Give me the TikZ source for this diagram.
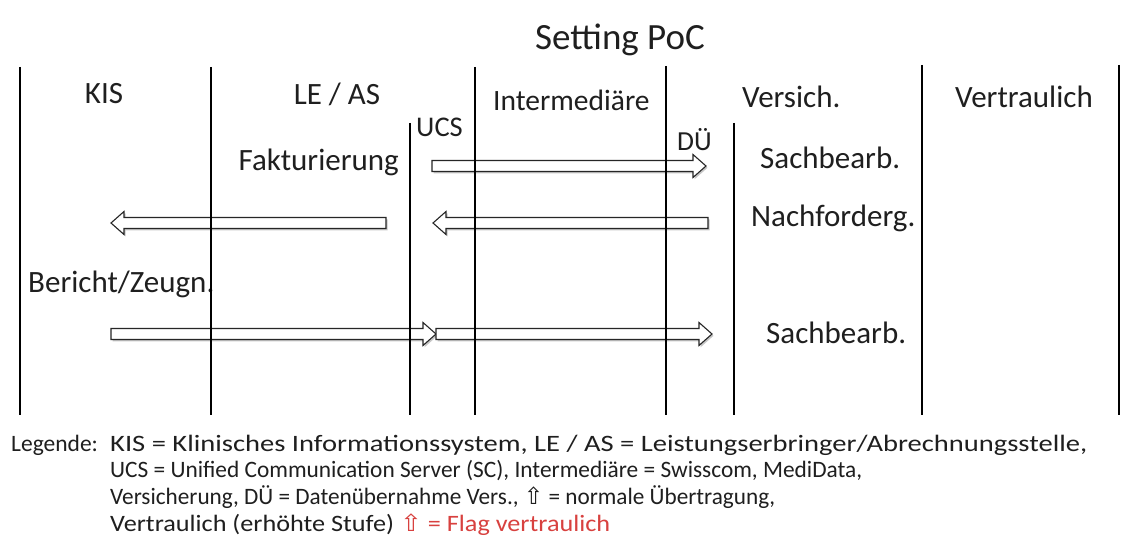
\documentclass[tikz,border=0pt]{standalone}
\usepackage{fontspec}
\setmainfont{Carlito}
\newfontfamily\symf{DejaVu Sans}
\usetikzlibrary{calc}
\definecolor{flagred}{HTML}{D8413F}
\newcommand\hblock[2]{%
  \path[barrow] let \p1=(#1), \p2=(#2), \p3=($(#2)!13pt!(#1)$) in
    (\x1,\y1+5.5pt) -- (\x3,\y1+5.5pt) -- (\x3,\y1+11.5pt) -- (\x2,\y2)
    -- (\x3,\y1-11.5pt) -- (\x3,\y1-5.5pt) -- (\x1,\y1-5.5pt) -- cycle;}
\newcommand\legline[2]{\resizebox{#1pt}{\height}{#2}}
\begin{document}
\begin{tikzpicture}[x=1pt,y=-1pt,
  vline/.style={line width=2.6pt,black},
  lbl/.style={font=\fontsize{31}{36}\selectfont,inner sep=0pt,text=black!88},
  legfont/.style={font=\fontsize{23.5}{26.7}\selectfont,inner sep=0pt,text=black!88},
  barrow/.style={draw=black!85,line width=1.1pt,line join=miter,fill=white,
    preaction={fill=black!22,transform canvas={shift={(1.5pt,-1.8pt)}}}}]
\useasboundingbox[fill=white] (0,0) rectangle (1122,556);
% title
\node[font=\fontsize{37}{42}\selectfont,inner sep=0pt,anchor=base,text=black!88] (title) at (620,50) {Setting PoC};
% labels
\node[lbl,anchor=base] (kis) at (104,104) {KIS};
\node[lbl,anchor=base] (leas) at (337,105) {LE / AS};
\node[lbl,anchor=base west,font=\fontsize{28.5}{34}\selectfont] (ucs) at (416,137) {UCS};
\node[lbl,anchor=base west,font=\fontsize{29.5}{34}\selectfont] (inter) at (493,111) {Intermediäre};
\node[lbl,anchor=base west,font=\fontsize{27.5}{32}\selectfont] (due) at (677,151) {DÜ};
\node[lbl,anchor=base west] (vers) at (742,108) {Versich.};
\node[lbl,anchor=base west] (vertr) at (955,108) {Vertraulich};
\node[lbl,anchor=base east] (fakt) at (399,171) {Fakturierung};
\node[lbl,anchor=base west] (sach1) at (760,169) {Sachbearb.};
\node[lbl,anchor=base west] (nach) at (751,227) {Nachforderg.};
\node[lbl,anchor=base west] (ber) at (28,292) {Bericht/Zeugn.};
\node[lbl,anchor=base west] (sach2) at (766,343) {Sachbearb.};
% arrow end points
\coordinate (a1s) at (432,166); \coordinate (a1e) at (706,166);
\coordinate (a2s) at (386,223); \coordinate (a2e) at (111,223);
\coordinate (a3s) at (708,223); \coordinate (a3e) at (433,223);
\coordinate (a4s) at (111,334); \coordinate (a4e) at (436,334);
\coordinate (a5s) at (436,334); \coordinate (a5e) at (712,334);
\hblock{a1s}{a1e}
\hblock{a2s}{a2e}
\hblock{a3s}{a3e}
\hblock{a4s}{a4e}
\hblock{a5s}{a5e}
% vertical lines
\foreach \n/\x/\t in {1/20/67,2/211/67,3/410/123,4/475/67,5/666/66,6/734/123,7/922/65,8/1119/65}{
  \coordinate (l\n t) at (\x,\t);
  \coordinate (l\n b) at (\x,415);
  \draw[vline] (l\n t) -- (l\n b);
}
% legend
\node[legfont,anchor=base west] (legtitle) at (11,451) {Legende:};
\node[legfont,anchor=base west] (legend) at (110,451) {%
\begin{tabular}[t]{@{}l@{}}
\legline{977}{KIS = Klinisches Informationssystem, LE / AS = Leistungserbringer/Abrechnungsstelle,}\\
\legline{752}{UCS = Unified Communication Server (SC), Intermediäre = Swisscom, MediData,}\\
\legline{665}{Versicherung, DÜ = Datenübernahme Vers., {\symf ⇧} = normale Übertragung,}\\
\legline{500}{Vertraulich (erhöhte Stufe) \textcolor{flagred}{{\symf ⇧} = Flag vertraulich}}
\end{tabular}};
\end{tikzpicture}
\end{document}
